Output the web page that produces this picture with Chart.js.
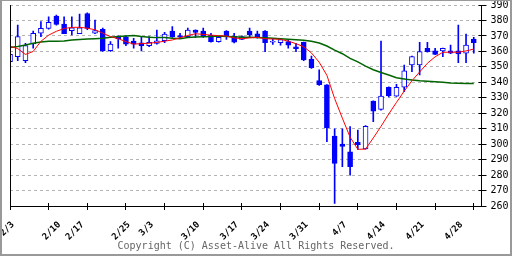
<!DOCTYPE html>
<html>
<head>
<meta charset="utf-8">
<script src="https://cdn.jsdelivr.net/npm/chart.js@4.4.1/dist/chart.umd.min.js"></script>
<style>
  html, body { margin: 0; padding: 0; background: #fff; }
  canvas { display: block; }
</style>
</head>
<body>
<canvas id="candle-chart" width="512" height="256"></canvas>
<script>
// weekly ticks sit every 5 weekday slots, the date texts are printed a bit off them
const tickLabels = ["2/3", "2/10", "2/17", "2/25", "3/3", "3/10", "3/17", "3/24", "3/31", "4/7", "4/14", "4/21", "4/28"];
const labelSlots = [0, 6, 9, 15, 18, 24, 29, 33, 38, 43, 48, 53, 58];

const openValues = [
  353.3, 356.6, 354, 364.8, 371.7, 374.9, 382.9, 377.7, 373.4, 371.5,
  384.5, 371.7, 374.3, 360.4, 369.5, 369.4, 366.7, 365.6, 363.7, 365.2,
  366.9, 373.2, 370.2, 369.5, 373.8, 373.2, 370.4, 366.3, 373.2, 369.9,
  367.8, 373.2, 371.4, 373.2, 366, 365.6, 366.3, 363, 365.9, 354.9,
  341.1, 338.3, 305.3, 300, 295, 301.2, 296.9, 327.9, 322.5, 336.8,
  331.1, 336.8, 351.2, 351.2, 362, 360.4, 360.3, 360.3, 360.3, 358.8,
  368
];
const highValues = [
  358.3, 377, 365.2, 373.2, 379.2, 382.4, 383.5, 382.4, 382.4, 384.2,
  385, 380.3, 375, 366.3, 370, 370, 368.4, 369.5, 369.5, 373.8,
  372.3, 376, 371.7, 375.1, 374, 375.1, 371.7, 369.3, 373.5, 371.7,
  370, 375, 373.2, 373.5, 368.4, 368, 367.4, 365.2, 366, 357,
  348, 338.5, 309.9, 309.9, 311.3, 309.1, 312, 328, 366.7, 337,
  338.7, 351.2, 357, 365.9, 365.9, 362, 362.2, 364.1, 377, 371.2,
  369.1
];
const lowValues = [
  353.1, 354, 352.7, 362, 369.5, 374.3, 377, 371.4, 370.6, 371.4,
  374, 371.4, 360, 360, 362, 363.7, 362, 360.3, 363, 364.6,
  365.6, 369, 368.4, 368.9, 369.1, 369.1, 366, 366, 367.8, 365.5,
  367.5, 368.9, 368.5, 359.8, 364.5, 364.1, 362, 359.8, 354, 349,
  338, 301.6, 261.7, 285.4, 280, 296.6, 296.7, 314.5, 322, 330.5,
  330.8, 333.9, 346.9, 344.7, 359.5, 357.8, 356.6, 358.5, 352.7, 352.7,
  358.8
];
const closeValues = [
  358.1, 369.5, 363.7, 371.7, 374.9, 378.8, 377.5, 371.5, 375.3, 375.3,
  374.9, 373.4, 360.3, 364.8, 368, 364.6, 364.6, 363.7, 365.9, 366.9,
  371.2, 369.5, 369.2, 373.8, 372.3, 370.2, 366.3, 369.1, 369.9, 365.9,
  369.5, 370.6, 368.9, 365.6, 366.5, 367.6, 364.1, 361.8, 354.4, 349.4,
  338.4, 310.6, 287.6, 298.5, 285.4, 299.6, 311.5, 321.4, 331.1, 331.3,
  336.8, 347.5, 356.6, 359.8, 359.8, 358.1, 362, 358.8, 358.3, 364.1,
  365.6
];
// short and long moving averages
const shortAverage = [
  363.3, 361.8, 358, 360, 366.5, 370.5, 373, 374.8, 375.5, 375.6,
  375, 374, 371.8, 369.6, 368.2, 366.3, 364.7, 365, 365.3, 365.8,
  366.6, 367.4, 368.8, 370.3, 371.4, 371, 370.5, 370.2, 369.9, 368.7,
  368.2, 368.7, 369.1, 368.2, 368, 367.8, 366.6, 365, 363, 359,
  353, 344.5, 329.5, 316.8, 304.5, 296.7, 296.8, 304, 311.5, 319.5,
  327, 334.3, 341, 346.7, 352.3, 356.5, 359.4, 359.5, 359.4, 360.3,
  361.5
];
const longAverage = [
  362.5, 363.2, 364.2, 365.2, 366, 366.5, 366.6, 366.7, 367.4, 367.7,
  368, 368.2, 368.5, 369.2, 369.6, 370, 370.2, 369.6, 369.2, 368.9,
  368.9, 368.5, 368.2, 369, 369.3, 369.5, 369.7, 369.9, 369.7, 369.5,
  369.2, 369.1, 369, 368.8, 368.5, 368.2, 367.9, 367.6, 367.2, 366.6,
  365.4, 363.5, 360.8, 358.5, 355.5, 353.2, 350.5, 348.1, 346.3, 344.7,
  343, 342.2, 341.5, 341, 340.7, 340.4, 340, 339.5, 339.4, 339.3,
  339.3
];

const blue = "#0000ff";
const mono = "'DejaVu Sans Mono', monospace";
const tickEvery = 5;

// one slot per weekday plus one empty slot at the right edge
const labels = [];
for (let i = 0; i <= openValues.length; i++) labels.push("");
tickLabels.forEach((t, k) => { labels[labelSlots[k]] = t; });

const bodies = openValues.map((o, i) => [o, closeValues[i]]);
const wicks = lowValues.map((l, i) => [l, highValues[i]]);
const bodyColors = openValues.map((o, i) => (closeValues[i] >= o ? "#ffffff" : blue));

// white background, grey frame, left axis line and crossing tick marks
const framePlugin = {
  id: "frame",
  beforeDraw(chart) {
    const ctx = chart.ctx;
    ctx.save();
    ctx.fillStyle = "#fff";
    ctx.fillRect(0, 0, chart.width, chart.height);
    ctx.restore();
  },
  afterDraw(chart) {
    const { ctx, chartArea: a } = chart;
    const x = chart.scales.x, y = chart.scales.y;
    ctx.save();
    ctx.strokeStyle = "#000";
    ctx.lineWidth = 1;
    ctx.beginPath();
    const lx = Math.floor(a.left) + 0.5;
    ctx.moveTo(lx, a.top);
    ctx.lineTo(lx, a.bottom);
    tickLabels.forEach((t, k) => {
      const px = Math.floor(x.getPixelForValue(k * tickEvery)) + 0.5;
      ctx.moveTo(px, a.bottom - 3);
      ctx.lineTo(px, a.bottom + 4);
    });
    y.ticks.forEach(t => {
      const py = Math.floor(y.getPixelForValue(t.value)) + 0.5;
      ctx.moveTo(a.right - 3, py);
      ctx.lineTo(a.right + 5, py);
    });
    ctx.stroke();
    ctx.fillStyle = "#999";
    ctx.fillRect(0, 0, chart.width, 1);
    ctx.fillRect(0, 0, 2, chart.height);
    ctx.fillRect(chart.width - 2, 0, 2, chart.height);
    ctx.fillRect(0, chart.height - 2, chart.width, 2);
    ctx.restore();
  }
};

const ctxCandle = document.querySelector("#candle-chart").getContext("2d");

const candleChart = new Chart(ctxCandle, {
  data: {
    labels: labels,
    datasets: [
      {
        type: "line",
        label: "short",
        data: shortAverage,
        yAxisID: "y",
        borderColor: "#ff0000",
        borderWidth: 1,
        pointRadius: 0,
        order: 0
      },
      {
        type: "line",
        label: "long",
        data: longAverage,
        yAxisID: "y",
        borderColor: "#006400",
        borderWidth: 1.5,
        pointRadius: 0,
        order: 1
      },
      {
        type: "bar",
        label: "body",
        data: bodies,
        yAxisID: "y",
        backgroundColor: bodyColors,
        borderColor: blue,
        borderWidth: 1,
        borderSkipped: false,
        barThickness: 5,
        grouped: false,
        order: 2
      },
      {
        type: "bar",
        label: "wick",
        data: wicks,
        yAxisID: "y",
        backgroundColor: blue,
        borderWidth: 0,
        barThickness: 1,
        grouped: false,
        order: 3
      }
    ]
  },
  options: {
    responsive: false,
    animation: false,
    layout: { padding: { left: 0, top: 5, right: 0, bottom: 4 } },
    plugins: {
      legend: { display: false },
      tooltip: { enabled: false },
      title: {
        display: true,
        position: "bottom",
        text: "Copyright (C) Asset-Alive All Rights Reserved.",
        color: "#666",
        font: { family: mono, size: 10, weight: "normal", lineHeight: 1.2 },
        padding: { top: 0, bottom: 0 }
      }
    },
    scales: {
      x: {
        type: "category",
        offset: false,
        grid: { display: false },
        border: { display: true, color: "#000", width: 1 },
        ticks: {
          autoSkip: false,
          maxRotation: 45,
          minRotation: 45,
          padding: 6,
          labelOffset: 3,
          color: "#000",
          font: { family: mono, size: 9, weight: "bold", lineHeight: 1 }
        },
        afterFit(s) {
          s.height = 34;
          s.paddingLeft = 0;
          s.paddingRight = 0;
        }
      },
      y: {
        position: "right",
        min: 260,
        max: 390,
        grid: { color: "#b4b4b4", drawTicks: false },
        border: { display: true, color: "#000", width: 1, dash: [3, 3] },
        ticks: {
          stepSize: 10,
          padding: 9,
          color: "#000",
          font: { family: mono, size: 10, lineHeight: 1 }
        },
        afterFit(s) {
          s.width = 30.5;
          s.paddingTop = 0;
          s.paddingBottom = 0;
        }
      },
      yLeft: {
        position: "left",
        grid: { drawOnChartArea: false, drawTicks: false },
        border: { display: true, color: "#000", width: 1 },
        ticks: { display: false },
        afterFit(s) {
          s.width = 10;
          s.paddingTop = 0;
          s.paddingBottom = 0;
        }
      }
    }
  },
  plugins: [framePlugin]
});
</script>
</body>
</html>
